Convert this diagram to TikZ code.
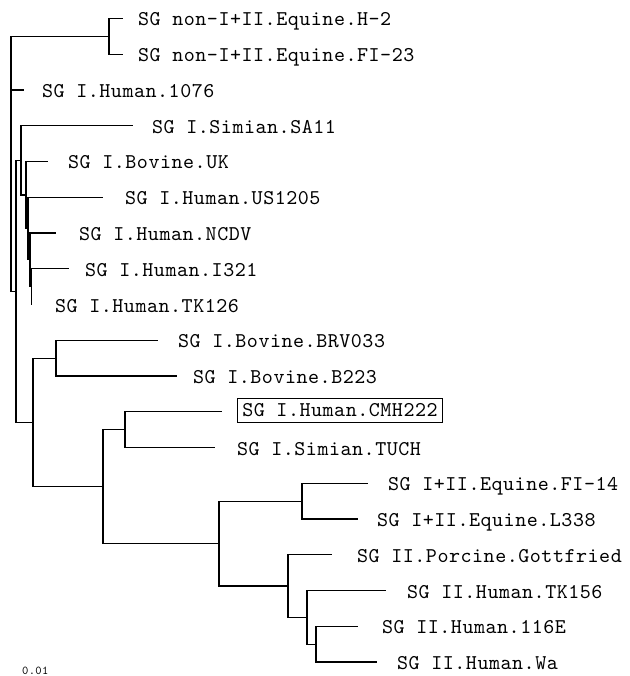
\documentclass[tikz,border=0pt]{standalone}
\usepackage{fontspec}
\newfontfamily\labfont[LetterSpace=2.5]{lmmono10-regular.otf}
\begin{document}
\begin{tikzpicture}[x=1pt,y=-1pt,
  br/.style={line width=1.2pt, black},
  lab/.style={anchor=base west, inner sep=0pt, font=\labfont\fontsize{21}{25}\selectfont},
  boxlab/.style={anchor=west, draw, line width=0.7pt, inner xsep=5pt, inner ysep=0pt, minimum height=24pt, font=\labfont\fontsize{21}{25}\selectfont},
  scalelab/.style={anchor=base west, inner sep=0pt, font=\labfont\fontsize{12}{14}\selectfont}
]
\useasboundingbox (0,0) rectangle (629,676);

% leaf tips
\coordinate (tH2)   at (123,18.5);
\coordinate (tFI23) at (123,54.25);
\coordinate (t1076) at (24,90);
\coordinate (tSA11) at (133,125.75);
\coordinate (tUK)   at (48,161.5);
\coordinate (tUS)   at (103,197.25);
\coordinate (tNCDV) at (56,233);
\coordinate (tI321) at (69,268.75);
\coordinate (tTK126) at (31.5,304.5);
\coordinate (tBRV)  at (158,340.25);
\coordinate (tB223) at (177,376);
\coordinate (tCMH)  at (222,411.75);
\coordinate (tTUCH) at (215,447.5);
\coordinate (tFI14) at (368,483.25);
\coordinate (tL338) at (358,519);
\coordinate (tGott) at (332,554.75);
\coordinate (tTK156) at (386,590.5);
\coordinate (t116E) at (358,626.25);
\coordinate (tWa)   at (377,662);

% internal nodes
\coordinate (nR)  at (11,36.4);
\coordinate (nA)  at (109,36.4);
\coordinate (n1)  at (16,291.4);
\coordinate (n2)  at (21,160.4);
\coordinate (n4)  at (26,195);
\coordinate (n5)  at (28,228.5);
\coordinate (n6)  at (30,259.8);
\coordinate (n7)  at (31.5,286.6);
\coordinate (n3)  at (33,422.3);
\coordinate (n8)  at (56,358.1);
\coordinate (n9)  at (103,486.6);
\coordinate (n10) at (125,429.6);
\coordinate (n11) at (219,543.6);
\coordinate (n12) at (302,501.1);
\coordinate (n13) at (288,586);
\coordinate (n14) at (307,617.3);
\coordinate (n15) at (316,644.1);

% branches
\draw[br] (nR) -- (nA);
\draw[br] (nR) |- (t1076);
\draw[br] (nR) |- (n1);
\draw[br] (nA) |- (tH2);
\draw[br] (nA) |- (tFI23);
\draw[br] (n1) |- (n2);
\draw[br] (n1) |- (n3);
\draw[br] (n2) |- (tSA11);
\draw[br] (n2) |- (n4);
\draw[br] (n4) |- (tUK);
\draw[br] (n4) |- (n5);
\draw[br] (n5) |- (tUS);
\draw[br] (n5) |- (n6);
\draw[br] (n6) |- (tNCDV);
\draw[br] (n6) |- (n7);
\draw[br] (n7) |- (tI321);
\draw[br] (n7) |- (tTK126);
\draw[br] (n3) |- (n8);
\draw[br] (n3) |- (n9);
\draw[br] (n8) |- (tBRV);
\draw[br] (n8) |- (tB223);
\draw[br] (n9) |- (n10);
\draw[br] (n9) |- (n11);
\draw[br] (n10) |- (tCMH);
\draw[br] (n10) |- (tTUCH);
\draw[br] (n11) |- (n12);
\draw[br] (n11) |- (n13);
\draw[br] (n12) |- (tFI14);
\draw[br] (n12) |- (tL338);
\draw[br] (n13) |- (tGott);
\draw[br] (n13) |- (n14);
\draw[br] (n14) |- (tTK156);
\draw[br] (n14) |- (n15);
\draw[br] (n15) |- (t116E);
\draw[br] (n15) |- (tWa);

% labels
\node[lab] (lH2)   at (138,26)     {SG non-I+II.Equine.H-2};
\node[lab] (lFI23) at (138,61.75)  {SG non-I+II.Equine.FI-23};
\node[lab] (l1076) at (42,97.5)    {SG I.Human.1076};
\node[lab] (lSA11) at (152,133.25) {SG I.Simian.SA11};
\node[lab] (lUK)   at (68,169)     {SG I.Bovine.UK};
\node[lab] (lUS)   at (125,204.75) {SG I.Human.US1205};
\node[lab] (lNCDV) at (79,240.5)   {SG I.Human.NCDV};
\node[lab] (lI321) at (85,276.25)  {SG I.Human.I321};
\node[lab] (lTK126) at (55,312)    {SG I.Human.TK126};
\node[lab] (lBRV)  at (178,347.75) {SG I.Bovine.BRV033};
\node[lab] (lB223) at (193,383.5)  {SG I.Bovine.B223};
\node[boxlab] (lCMH) at (237,410.5) {SG I.Human.CMH222};
\node[lab] (lTUCH) at (237,455)    {SG I.Simian.TUCH};
\node[lab] (lFI14) at (388,490.75) {SG I+II.Equine.FI-14};
\node[lab] (lL338) at (377,526.5)  {SG I+II.Equine.L338};
\node[lab] (lGott) at (357,562.25) {SG II.Porcine.Gottfried};
\node[lab] (lTK156) at (407,598)   {SG II.Human.TK156};
\node[lab] (l116E) at (382,633.75) {SG II.Human.116E};
\node[lab] (lWa)   at (397,669.5)  {SG II.Human.Wa};
\node[scalelab] (lscale) at (22,674.5) {0.01};
\end{tikzpicture}
\end{document}
